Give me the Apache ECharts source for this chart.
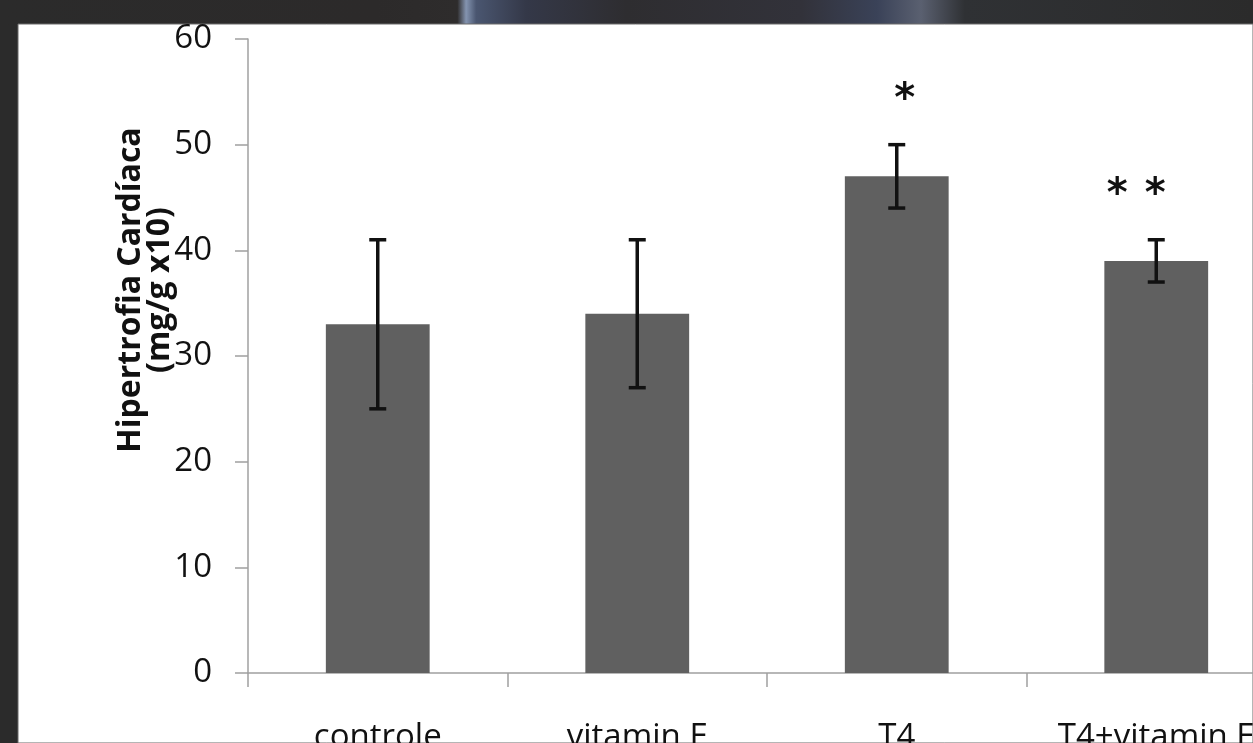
<!DOCTYPE html>
<html>
<head>
<meta charset="utf-8">
<script src="https://cdn.jsdelivr.net/npm/echarts@6/dist/echarts.min.js"></script>
<style>
  html, body { margin: 0; padding: 0; background: #2b2b2b; }
  #chart { width: 1253px; height: 743px; }
</style>
</head>
<body>
<div id="chart"></div>
<script>
// data
var categories = ['controle', 'vitamin E', 'T4', 'T4+vitamin E'];
var means = [33, 34, 47, 39];
var errLow = [25, 27, 44, 37];
var errHigh = [41, 41, 50, 41];
var sigMarks = ['', '', '*', '**'];
var yMin = 0, yMax = 60, yStep = 10;

var chart = echarts.init(document.getElementById('chart'));

var option = {
    backgroundColor: '#2b2b2b',
    animation: false,
    graphic: [
        // top strip with the streaks of the slide background
        {
            type: 'rect', z: -10,
            shape: { x: 0, y: 0, width: 1253, height: 25 },
            style: {
                fill: new echarts.graphic.LinearGradient(0, 0, 1, 0, [
                    { offset: 0, color: '#2b2b2b' },
                    { offset: 0.30, color: '#2c2a2a' },
                    { offset: 0.365, color: '#2e2c2c' },
                    { offset: 0.372, color: '#8494b0' },
                    { offset: 0.38, color: '#4a5670' },
                    { offset: 0.42, color: '#343848' },
                    { offset: 0.50, color: '#2e2d30' },
                    { offset: 0.64, color: '#32323a' },
                    { offset: 0.70, color: '#3a4258' },
                    { offset: 0.735, color: '#5a6070' },
                    { offset: 0.77, color: '#2f3134' },
                    { offset: 1, color: '#2b2b2b' }
                ])
            }
        },
        {
            type: 'rect', z: -9,
            shape: { x: 18, y: 24, width: 1235, height: 719 },
            style: { fill: '#ffffff', stroke: '#6a6a6a', lineWidth: 1 }
        },
        {
            type: 'text', z: 10,
            x: 145, y: 290,
            rotation: Math.PI / 2,
            style: {
                text: 'Hipertrofia Cardíaca\n(mg/g x10)',
                font: 'bold 32px "Open Sans"',
                fill: '#111',
                align: 'center',
                verticalAlign: 'middle',
                lineHeight: 29
            }
        }
    ],
    grid: {
        left: 248,
        width: 1038,
        top: 39,
        bottom: 70,
        outerBoundsMode: 'none',
        containLabel: false
    },
    xAxis: {
        type: 'category',
        data: categories,
        axisLine: { lineStyle: { color: '#a0a0a0', width: 1.5 } },
        axisTick: { show: true, length: 14, lineStyle: { color: '#a0a0a0', width: 1.5 } },
        axisLabel: {
            interval: 0,
            color: '#111',
            fontFamily: 'Open Sans',
            fontSize: 33,
            margin: 48
        }
    },
    yAxis: {
        type: 'value',
        min: yMin,
        max: yMax,
        interval: yStep,
        axisLine: { show: true, lineStyle: { color: '#a0a0a0', width: 1.5 } },
        axisTick: { show: true, length: 13, lineStyle: { color: '#a0a0a0', width: 1.5 } },
        splitLine: { show: false },
        axisLabel: {
            color: '#111',
            fontFamily: 'Open Sans',
            fontSize: 33,
            margin: 36
        }
    },
    series: [
        {
            type: 'bar',
            data: means,
            barWidth: '40%',
            itemStyle: { color: '#606060' },
            z: 2
        },
        {
            type: 'custom',
            z: 5,
            data: categories.map(function (c, i) { return [i, errLow[i], errHigh[i]]; }),
            renderItem: function (params, api) {
                var lo = api.coord([api.value(0), api.value(1)]);
                var hi = api.coord([api.value(0), api.value(2)]);
                var cap = 8.5;
                var st = { stroke: '#111', lineWidth: 3.5 };
                var kids = [
                    { type: 'line', shape: { x1: lo[0], y1: lo[1], x2: hi[0], y2: hi[1] }, style: st },
                    { type: 'line', shape: { x1: lo[0] - cap, y1: lo[1], x2: lo[0] + cap, y2: lo[1] }, style: st },
                    { type: 'line', shape: { x1: hi[0] - cap, y1: hi[1], x2: hi[0] + cap, y2: hi[1] }, style: st }
                ];
                var marks = sigMarks[params.dataIndex];
                for (var k = 0; k < marks.length; k++) {
                    kids.push({
                        type: 'text',
                        x: hi[0] + (k - (marks.length - 1) / 2) * 38 + (marks.length > 1 ? -20 : 8),
                        y: hi[1] - 44,
                        style: {
                            text: '*',
                            font: 'bold 40px "DejaVu Sans"',
                            fill: '#111',
                            align: 'center',
                            verticalAlign: 'middle'
                        }
                    });
                }
                return { type: 'group', children: kids };
            }
        }
    ]
};

chart.setOption(option);
</script>
</body>
</html>
